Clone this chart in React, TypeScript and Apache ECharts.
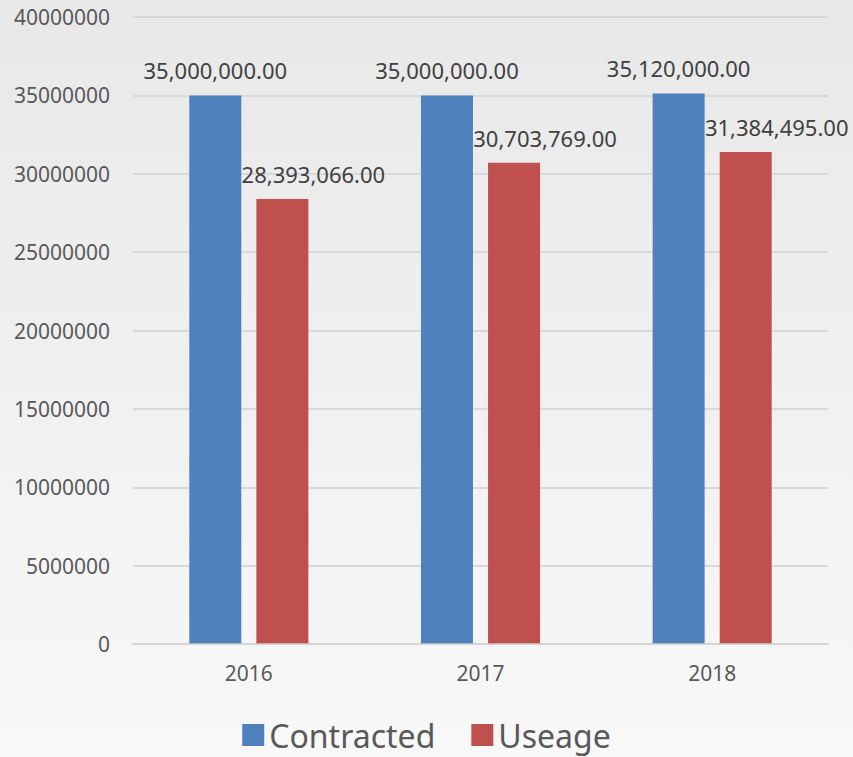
import React, { useEffect, useRef } from "react";
import * as echarts from "echarts";

const categories = ["2016", "2017", "2018"];
const contracted = [35000000, 35000000, 35120000];
const useage = [28393066, 30703769, 31384495];
const yTicks = { min: 0, max: 40000000, interval: 5000000 };

const fmt = (v: number) =>
  v.toLocaleString("en-US", { minimumFractionDigits: 2, maximumFractionDigits: 2 });

export default function App() {
  const ref = useRef<HTMLDivElement>(null);
  useEffect(() => {
    if (!ref.current) return;
    const chart = echarts.init(ref.current, undefined, { renderer: "svg" });
    const font = "Noto Sans";
    chart.setOption({
      animation: false,
      textStyle: { fontFamily: font },
      grid: { left: 133, right: 25, top: 17, bottom: 113, containLabel: false },
      legend: {
        bottom: 1,
        left: "center",
        itemWidth: 22,
        itemHeight: 22,
        itemGap: 36,
        itemTextGap: 11,
        itemStyle: { borderWidth: 0 },
        icon: "rect",
        textStyle: { fontSize: 32, color: "#595959", fontFamily: font },
        data: ["Contracted", "Useage"],
      },
      xAxis: {
        type: "category",
        data: categories,
        z: 5,
        axisLine: { show: true, lineStyle: { color: "rgba(210,210,210,0.7)", width: 2 } },
        axisTick: { show: false },
        axisLabel: { fontSize: 21, color: "#595959", margin: 18, fontFamily: font },
      },
      yAxis: {
        type: "value",
        min: yTicks.min,
        max: yTicks.max,
        interval: yTicks.interval,
        axisLine: { show: false },
        axisTick: { show: false },
        splitLine: { lineStyle: { color: "#d9d9d9", width: 2 } },
        axisLabel: {
          fontSize: 21,
          color: "#595959",
          margin: 23,
          fontFamily: font,
          formatter: (v: number) => String(v),
        },
      },
      series: [
        {
          name: "Contracted",
          type: "bar",
          data: contracted,
          barWidth: 52,
          barGap: "29%",
          itemStyle: { color: "#4f81bd" },
          label: {
            show: true,
            position: "top",
            distance: 14,
            fontSize: 22,
            color: "#404040",
            fontFamily: font,
            formatter: (p: any) => fmt(p.value),
          },
        },
        {
          name: "Useage",
          type: "bar",
          data: useage,
          barWidth: 52,
          itemStyle: { color: "#c0504d" },
          label: {
            show: true,
            position: "top",
            distance: 14,
            offset: [31, 0],
            fontSize: 22,
            color: "#404040",
            fontFamily: font,
            formatter: (p: any) => fmt(p.value),
          },
        },
      ],
    });
    return () => chart.dispose();
  }, []);
  return (
    <div
      ref={ref}
      style={{
        position: "fixed",
        left: 0,
        top: 0,
        width: 853,
        height: 757,
        background: "linear-gradient(to bottom, #e8e8e8 0%, #f1f1f1 55%, #f8f8f8 100%)",
      }}
    />
  );
}
